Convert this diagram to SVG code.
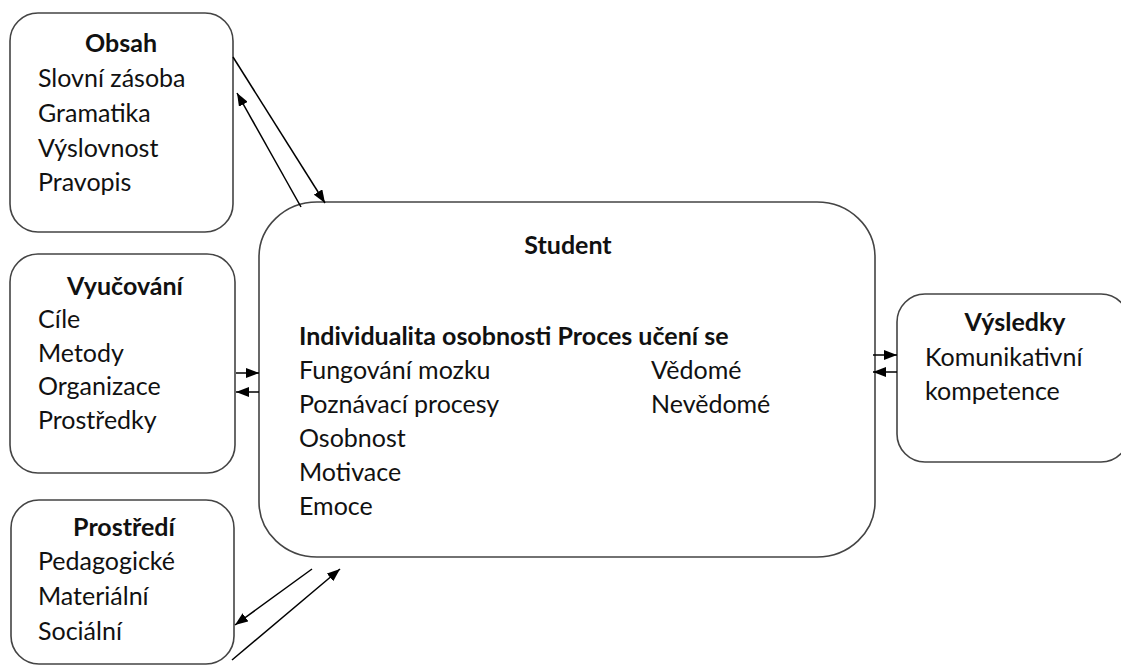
<svg xmlns="http://www.w3.org/2000/svg" width="1121" height="665" viewBox="0 0 1121 665">
<defs>
<marker id="ah" markerUnits="userSpaceOnUse" markerWidth="14" markerHeight="10" refX="13" refY="5" orient="auto">
<path d="M0,0 L13,5 L0,10 Z" fill="#000"/>
</marker>
<style>
.box{fill:#fff;stroke:#444;stroke-width:1.6}
.t{font-family:Lato,"Open Sans","Liberation Sans",sans-serif;font-size:25px;fill:#111}
.b{font-weight:bold}
.c{text-anchor:middle}
.ln{stroke:#000;stroke-width:1.5;fill:none;marker-end:url(#ah)}
</style>
</defs>
<rect width="1121" height="665" fill="#fff"/>
<g id="obsah">
<rect class="box" x="10" y="13" width="223" height="219" rx="28"/>
<text class="t b c" x="121" y="52">Obsah</text>
<text class="t" x="38" y="87">Slovní zásoba</text>
<text class="t" x="38" y="122">Gramatika</text>
<text class="t" x="38" y="157">Výslovnost</text>
<text class="t" x="38" y="191">Pravopis</text>
</g>
<g id="vyucovani">
<rect class="box" x="10" y="254" width="225" height="219" rx="28"/>
<text class="t b c" x="125" y="295">Vyučování</text>
<text class="t" x="38" y="328">Cíle</text>
<text class="t" x="38" y="362">Metody</text>
<text class="t" x="38" y="395">Organizace</text>
<text class="t" x="38" y="429">Prostředky</text>
</g>
<g id="prostredi">
<rect class="box" x="11" y="500" width="223" height="164" rx="28"/>
<text class="t b c" x="124" y="536">Prostředí</text>
<text class="t" x="38" y="570">Pedagogické</text>
<text class="t" x="38" y="605">Materiální</text>
<text class="t" x="38" y="640">Sociální</text>
</g>
<g id="student">
<rect class="box" x="259" y="202" width="616" height="355" rx="58" ry="55"/>
<text class="t b c" x="568" y="254">Student</text>
<text class="t b" x="299" y="345">Individualita osobnosti Proces učení se</text>
<text class="t" x="299" y="379">Fungování mozku</text>
<text class="t" x="299" y="413">Poznávací procesy</text>
<text class="t" x="299" y="447">Osobnost</text>
<text class="t" x="299" y="481">Motivace</text>
<text class="t" x="299" y="515">Emoce</text>
<text class="t" x="651" y="379">Vědomé</text>
<text class="t" x="651" y="413">Nevědomé</text>
</g>
<g id="vysledky">
<rect class="box" x="897" y="294" width="232" height="168" rx="28"/>
<text class="t b c" x="1015" y="331">Výsledky</text>
<text class="t" x="925" y="366">Komunikativní</text>
<text class="t" x="925" y="400">kompetence</text>
</g>
<g id="connectors">
<line class="ln" x1="233" y1="57" x2="325" y2="203"/>
<line class="ln" x1="301" y1="207" x2="237" y2="93"/>
<line class="ln" x1="236" y1="373" x2="259" y2="373"/>
<line class="ln" x1="259" y1="392" x2="236" y2="392"/>
<line class="ln" x1="873" y1="355" x2="897" y2="355"/>
<line class="ln" x1="897" y1="372" x2="873" y2="372"/>
<line class="ln" x1="312" y1="569" x2="235" y2="625"/>
<line class="ln" x1="232" y1="660" x2="340" y2="569"/>
</g>
</svg>
